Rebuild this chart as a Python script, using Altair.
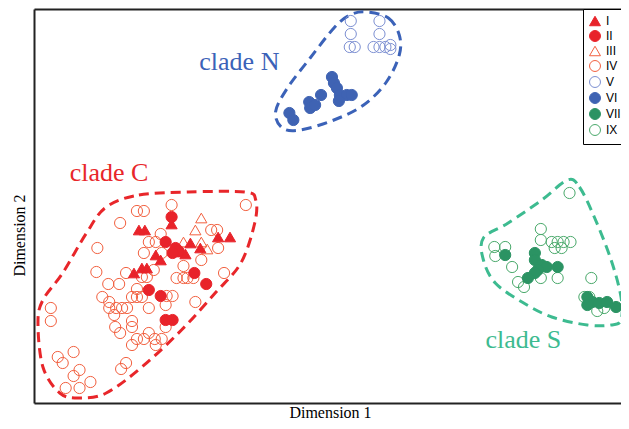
import altair as alt
import pandas as pd

# ---- data (MDS coordinates, arbitrary units) ----
groups = ["I", "II", "III", "IV", "V", "VI", "VII", "IX"]

I_x = [140, 146, 173, 220, 232, 192, 157, 183, 187, 202, 162, 135, 143, 148]
I_y = [230, 230, 224, 237, 237, 243, 255, 252, 254, 248, 260, 273, 268, 268]

II_x = [173, 167, 177, 180, 174, 196, 208, 150, 162, 167, 174]
II_y = [217, 242, 248, 251, 253, 273, 284, 290, 296, 320, 320]

III_x = [203, 197, 185, 203, 209]
III_y = [218, 230, 242, 242, 249]

IV_x = [173, 138, 145, 248, 121, 98, 162, 150, 157, 213, 219, 220, 145, 163, 203,
        185, 155, 97, 127, 226, 143, 148, 178, 185, 189, 195, 109, 120, 138, 103,
        133, 138, 143, 168, 174, 110, 197, 110, 117, 123, 128, 150, 167, 51, 115,
        51, 133, 116, 133, 167, 121, 150, 138, 145, 156, 163, 133, 157, 74, 58,
        63, 127, 122, 80, 74, 91, 80, 66]
IV_y = [205, 211, 211, 205, 223, 248, 234, 242, 242, 230, 230, 248, 253, 253, 260,
        266, 270, 272, 273, 273, 277, 277, 278, 278, 278, 278, 284, 284, 289, 297,
        297, 297, 297, 296, 296, 302, 302, 308, 308, 308, 308, 308, 305, 308, 315,
        321, 321, 327, 327, 327, 333, 333, 339, 339, 339, 339, 345, 345, 352, 357,
        363, 363, 369, 370, 376, 382, 388, 388]

V_x = [354, 383, 354, 383, 353, 358, 377, 383, 389, 394, 394]
V_y = [21, 21, 34, 34, 47, 47, 47, 47, 47, 45, 49]

VI_x = [292, 296, 312, 313, 318, 324, 335, 337, 340, 343, 350, 355, 342]
VI_y = [113, 120, 102, 108, 105, 95, 77, 83, 88, 95, 95, 95, 101]

VII_x = [510, 540, 540, 547, 552, 563, 543, 540, 533, 593, 598, 605, 613, 622, 593]
VII_y = [255, 253, 260, 265, 267, 267, 270, 273, 278, 297, 302, 303, 302, 307, 305]

IX_x = [575, 546, 546, 557, 563, 569, 576, 560, 567, 499, 510, 500, 517, 523, 529,
        546, 563, 597, 590, 595, 610, 603]
IX_y = [193, 229, 240, 242, 242, 242, 242, 248, 248, 247, 247, 256, 267, 282, 287,
        278, 278, 278, 297, 297, 308, 311]

fill_colors = ["#e8232a", "#e8232a", "transparent", "transparent",
               "transparent", "#3f63b3", "#2b9363", "transparent"]
stroke_colors = ["#e8232a", "#e8232a", "#f2603f", "#f2603f",
                 "#7c8fd2", "#3f63b3", "#2b9363", "#4aa96b"]
shapes = ["triangle-up", "circle", "triangle-up", "circle",
          "circle", "circle", "circle", "circle"]

# clade outlines (vertices of the dashed hulls)
hullC_x = [107, 140, 190, 247, 258, 257, 243, 217, 183, 143, 107, 80, 60, 43, 38, 43, 63, 87]
hullC_y = [207, 195, 192, 192, 200, 223, 263, 293, 330, 367, 393, 398, 393, 367, 323, 300, 273, 233]
hullN_x = [370, 392, 403, 403, 390, 367, 337, 303, 285, 278, 290, 313, 337, 353]
hullN_y = [12, 18, 35, 55, 82, 105, 120, 130, 128, 112, 88, 58, 28, 15]
hullS_x = [573, 585, 600, 617, 627, 627, 617, 593, 557, 527, 500, 488, 488, 513, 547]
hullS_y = [180, 187, 217, 260, 297, 320, 325, 325, 317, 302, 283, 260, 238, 223, 200]

clade_names = ["clade N", "clade C", "clade S"]
clade_x = [201, 70, 490]
clade_y = [70, 181, 348]
clade_colors = ["#3b62b8", "#e8262a", "#3dbb90"]
hull_colors = ["#3b62b8", "#e8262a", "#3dbb90"]

# ---- build tables ----
draw_order = ["IV", "III", "V", "IX", "I", "II", "VI", "VII"]
series = {"I": (I_x, I_y), "II": (II_x, II_y), "III": (III_x, III_y), "IV": (IV_x, IV_y),
          "V": (V_x, V_y), "VI": (VI_x, VI_y), "VII": (VII_x, VII_y), "IX": (IX_x, IX_y)}
rows = []
k = 0
for g in draw_order:
    xs_, ys_ = series[g]
    for a, b in zip(xs_, ys_):
        rows.append({"x": a, "y": b, "group": g, "ord": k})
        k += 1
pts = pd.DataFrame(rows)

hull_rows = []
for name, hx, hy in [("clade N", hullN_x, hullN_y), ("clade C", hullC_x, hullC_y),
                     ("clade S", hullS_x, hullS_y)]:
    for i, (a, b) in enumerate(zip(hx, hy)):
        hull_rows.append({"x": a, "y": b, "clade": name, "i": i})
hulls = pd.DataFrame(hull_rows)

labels = pd.DataFrame({"x": clade_x, "y": clade_y, "clade": clade_names})

xs = alt.Scale(domain=[34, 627], nice=False, zero=False)
ys = alt.Scale(domain=[9, 403], nice=False, zero=False, reverse=True)

FRAME = "#222222"
x_axis = alt.Axis(title="Dimension 1", labels=False, ticks=False, grid=False,
                  domain=True, domainColor=FRAME, domainWidth=2,
                  titleFont="Liberation Serif", titleFontSize=16, titleFontWeight="normal",
                  titleColor="black", titleX=296, titleY=14, titleBaseline="alphabetic")
y_axis = alt.Axis(title="Dimension 2", labels=False, ticks=False, grid=False,
                  domain=True, domainColor=FRAME, domainWidth=2,
                  titleFont="Liberation Serif", titleFontSize=16, titleFontWeight="normal",
                  titleColor="black", titleX=-15, titleY=226, titleAngle=270,
                  titleBaseline="middle", titleAlign="center")
top_axis = alt.Axis(orient="top", title=None, labels=False, ticks=False, grid=False,
                    domain=True, domainColor=FRAME, domainWidth=2)

hull_layer = alt.Chart(hulls).mark_line(
    interpolate="cardinal-closed", strokeWidth=3, strokeDash=[10, 6]
).encode(
    x=alt.X("x:Q", scale=xs, axis=x_axis),
    y=alt.Y("y:Q", scale=ys, axis=y_axis),
    color=alt.Color("clade:N", scale=alt.Scale(domain=clade_names, range=hull_colors), legend=None),
    detail="clade:N",
    order="i:Q",
)

legend = alt.Legend(orient="none", legendX=549, legendY=0, strokeColor="black",
                    fillColor="white", padding=6, rowPadding=0, symbolSize=120,
                    symbolStrokeWidth=1, labelFont="Liberation Sans", labelFontSize=12,
                    labelColor="black", labelOffset=5, symbolOpacity=1)

point_layer = alt.Chart(pts).mark_point(size=125, strokeWidth=1, opacity=1).encode(
    x=alt.X("x:Q", scale=xs, axis=None),
    y=alt.Y("y:Q", scale=ys),
    shape=alt.Shape("group:N", scale=alt.Scale(domain=groups, range=shapes), title=None, legend=legend),
    fill=alt.Fill("group:N", scale=alt.Scale(domain=groups, range=fill_colors), title=None, legend=legend),
    stroke=alt.Stroke("group:N", scale=alt.Scale(domain=groups, range=stroke_colors), title=None, legend=legend),
    order="ord:Q",
)

text_layer = alt.Chart(labels).mark_text(
    font="Liberation Serif", fontSize=26, align="left", baseline="alphabetic"
).encode(
    x=alt.X("x:Q", scale=xs, axis=top_axis),
    y=alt.Y("y:Q", scale=ys),
    text="clade:N",
    color=alt.Color("clade:N", scale=alt.Scale(domain=clade_names, range=clade_colors), legend=None),
)

chart = alt.layer(hull_layer, point_layer, text_layer).resolve_scale(
    color="independent"
).resolve_axis(x="independent").properties(
    width=587, height=394,
    autosize=alt.AutoSizeParams(type="none"),
    padding={"left": 26, "top": 1, "right": 0, "bottom": 16},
).configure_view(stroke=None)

chart.save("out.html", embed_options={"renderer": "svg", "actions": False})
